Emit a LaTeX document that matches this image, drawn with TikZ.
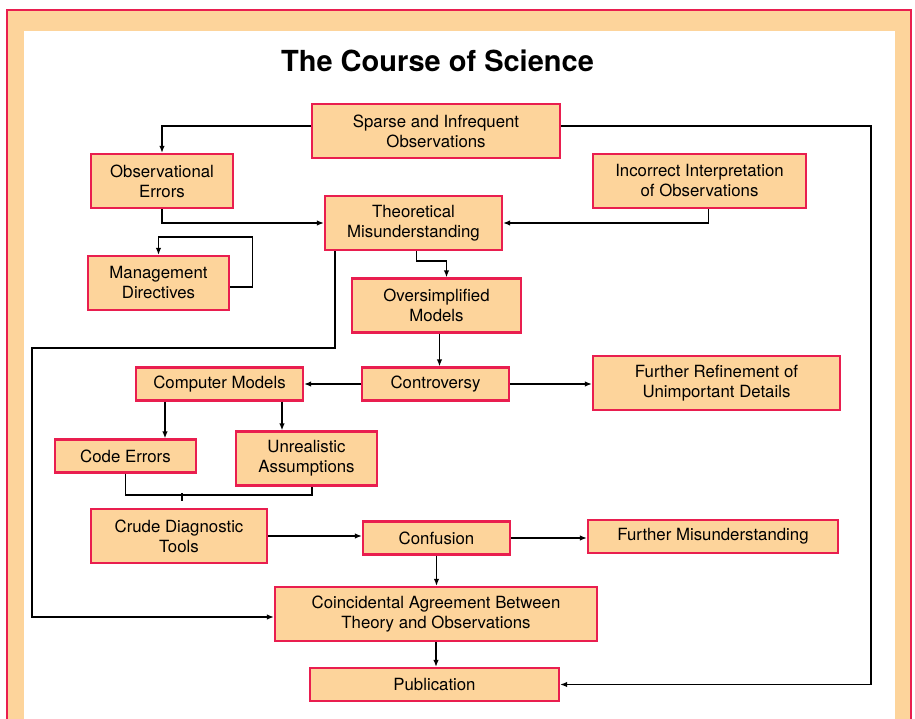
\documentclass[tikz,border=0pt]{standalone}
\usepackage{fontspec}
\setmainfont{TeX Gyre Heros}
\usepackage{xcolor}
\usepackage{tikz}
\usetikzlibrary{arrows.meta,positioning}
\definecolor{cardfill}{HTML}{FDD49B}
\definecolor{cardline}{HTML}{E91E4F}
\tikzset{
  card/.style={draw=cardline,fill=cardfill,line width=2.2pt,minimum height=54pt,inner sep=0pt,align=center,font=\fontsize{16.8}{20}\selectfont},
  slimcard/.style={card,minimum height=33pt},
  flow/.style={-{Latex[length=7pt,width=5.5pt]},line width=1.8pt,draw=black},
  link/.style={line width=1.8pt,draw=black},
  frameband/.style={fill=cardfill,draw=cardline,line width=2pt}
}
\begin{document}
\begin{tikzpicture}[x=1pt,y=-1pt]
  \useasboundingbox (0,0) rectangle (915,719);
  \draw[frameband] (7,10) rectangle (911,740);
  \fill[white] (24,31) rectangle (895,740);
  \node[anchor=base,font=\fontsize{29}{32}\selectfont\bfseries] (title) at (437.5,72) {The Course of Science};
  \node[card,minimum width=248pt] (sparse) at (436,131) {Sparse and Infrequent\\Observations};
  \node[card,minimum width=142pt] (obs) at (162,181) {Observational\\Errors};
  \node[card,minimum width=213pt] (inc) at (699.5,181) {Incorrect Interpretation\\of Observations};
  \node[card,minimum width=177pt] (theo) at (413.5,223) {Theoretical\\Misunderstanding};
  \node[card,minimum width=141pt] (mgmt) at (158.5,283) {Management\\Directives};
  \node[card,minimum width=169pt] (overs) at (436.5,305.5) {Oversimplified\\Models};
  \node[slimcard,minimum width=167pt] (compm) at (219.5,384) {Computer Models};
  \node[slimcard,minimum width=147pt] (contr) at (435.5,384) {Controversy};
  \node[card,minimum width=247pt] (refine) at (716.5,383) {Further Refinement of\\Unimportant Details};
  \node[slimcard,minimum width=141pt] (code) at (125.5,456) {Code Errors};
  \node[card,minimum width=141pt] (unreal) at (306.5,458.5) {Unrealistic\\Assumptions};
  \node[card,minimum width=176pt] (crude) at (179,536) {Crude Diagnostic\\Tools};
  \node[slimcard,minimum width=147pt] (conf) at (436.5,538) {Confusion};
  \node[slimcard,minimum width=250pt] (furth) at (713,536.5) {Further Misunderstanding};
  \node[card,minimum width=322pt] (coinc) at (436,614) {Coincidental Agreement Between\\Theory and Observations};
  \node[slimcard,minimum width=249pt] (pub) at (434.5,684.5) {Publication};
  \draw[flow] ([yshift=5pt]sparse.west) -| (obs.north);
  \draw[flow] ([yshift=5pt]sparse.east) -| ([xshift=311pt]pub.east) -- (pub.east);
  \draw[flow] (obs.south) |- (theo.west);
  \draw[flow] ([xshift=9pt]inc.south) |- (theo.east);
  \draw[flow] ([yshift=-4pt]mgmt.east) -| ([xshift=94pt,yshift=18pt]mgmt.north) -| (mgmt.north);
  \draw[flow] ([xshift=3pt]theo.south) -- ++(0,10) -| ([xshift=10pt]overs.north);
  \draw[flow] ([xshift=-78.5pt]theo.south) -- ++(0,97) -| ([xshift=-242pt,yshift=-3pt]coinc.west) -- ([yshift=-3pt]coinc.west);
  \draw[flow] ([xshift=3pt]overs.south) -- ([xshift=3pt]overs.south |- contr.north);
  \draw[flow] (contr.west) -- (compm.east);
  \draw[flow] (contr.east) -- (contr.east -| refine.west);
  \draw[flow] ([xshift=-54.5pt]compm.south) -- ([xshift=-54.5pt]compm.south |- code.north);
  \draw[flow] ([xshift=62.5pt]compm.south) -- ([xshift=62.5pt]compm.south |- unreal.north);
  \draw[link] (code.south) -- ++(0,21) -| ([xshift=5.5pt]unreal.south);
  \draw[link] ([xshift=3pt,yshift=7pt]crude.north) -- ++(0,-8);
  \draw[flow] (crude.east) -- (crude.east -| conf.west);
  \draw[flow] (conf.east) -- (conf.east -| furth.west);
  \draw[flow] (conf.south) -- (conf.south |- coinc.north);
  \draw[flow] (coinc.south) -- (coinc.south |- pub.north);
\end{tikzpicture}
\end{document}
